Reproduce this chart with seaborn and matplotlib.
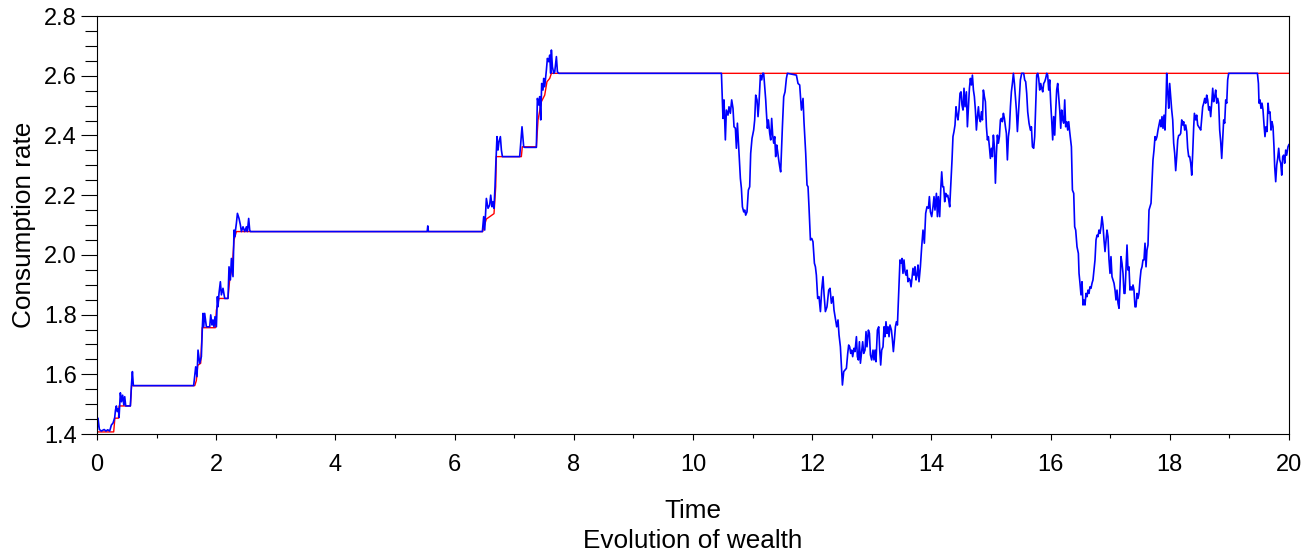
import numpy as np
import pandas as pd
import matplotlib
matplotlib.use("Agg")
import matplotlib.pyplot as plt
from matplotlib.ticker import MultipleLocator, FormatStrFormatter
import seaborn as sns

# ---------------------------------------------------------------------------
# Simulated consumption path (blue), split by time range
# ---------------------------------------------------------------------------
early_t = [0.000, 0.017, 0.040, 0.073, 0.120, 0.150, 0.180, 0.213, 0.241, 0.270,
           0.297, 0.310, 0.325, 0.340, 0.360, 0.370, 0.392, 0.410, 0.430, 0.450,
           0.465, 0.482, 0.560, 0.580, 0.594, 0.610,
           1.622, 1.656, 1.678, 1.695, 1.723, 1.751, 1.768, 1.779, 1.790, 1.807,
           1.835, 1.891, 1.908, 1.930, 1.946, 1.963, 1.980, 2.003, 2.020, 2.030,
           2.047, 2.070, 2.087, 2.114, 2.143, 2.198, 2.215, 2.238, 2.255, 2.282,
           2.299, 2.310, 2.339, 2.356, 2.383, 2.406, 2.423, 2.450, 2.478, 2.507,
           2.523, 2.545, 2.562, 2.574]
early_c = [1.410, 1.453, 1.415, 1.410, 1.415, 1.410, 1.414, 1.410, 1.430, 1.437,
           1.455, 1.480, 1.494, 1.475, 1.485, 1.455, 1.538, 1.508, 1.530, 1.497,
           1.525, 1.494, 1.494, 1.570, 1.609, 1.562,
           1.562, 1.625, 1.592, 1.681, 1.637, 1.659, 1.759, 1.804, 1.759, 1.804,
           1.759, 1.759, 1.799, 1.765, 1.782, 1.759, 1.793, 1.759, 1.860, 1.826,
           1.871, 1.910, 1.866, 1.888, 1.854, 1.854, 1.960, 1.916, 1.988, 1.927,
           2.083, 2.061, 2.106, 2.139, 2.122, 2.100, 2.078, 2.094, 2.078, 2.094,
           2.078, 2.122, 2.083, 2.078]

climb_t = [5.540, 5.550, 5.560, 6.466, 6.488, 6.505, 6.533, 6.561, 6.589, 6.606,
           6.628, 6.645, 6.661, 6.678, 6.690, 6.711, 6.728, 6.745, 6.768, 6.785,
           6.802, 7.092, 7.131, 7.159, 7.176, 7.372, 7.389, 7.411, 7.428, 7.445,
           7.461, 7.483, 7.495, 7.512, 7.540, 7.557, 7.579, 7.596, 7.612, 7.624,
           7.641, 7.663, 7.680, 7.708, 7.725, 7.747]
climb_c = [2.078, 2.097, 2.078, 2.078, 2.128, 2.083, 2.189, 2.156, 2.167, 2.200,
           2.161, 2.178, 2.156, 2.228, 2.295, 2.396, 2.351, 2.379, 2.396, 2.351,
           2.329, 2.329, 2.429, 2.362, 2.360, 2.360, 2.524, 2.502, 2.530, 2.452,
           2.574, 2.552, 2.591, 2.563, 2.619, 2.658, 2.647, 2.669, 2.608, 2.686,
           2.630, 2.608, 2.613, 2.664, 2.613, 2.608]

dip1_t = [10.477, 10.493, 10.503, 10.520, 10.543, 10.560, 10.587, 10.604, 10.627, 10.649,
          10.671, 10.688, 10.711, 10.728, 10.745, 10.767, 10.795, 10.812, 10.829, 10.851,
          10.868, 10.884, 10.906, 10.929, 10.951, 10.968, 10.990, 11.018, 11.035, 11.052,
          11.074, 11.091, 11.107, 11.131, 11.153, 11.169, 11.186, 11.203, 11.220, 11.231,
          11.248, 11.265, 11.287, 11.304, 11.320, 11.337, 11.354, 11.371, 11.387, 11.404,
          11.421, 11.438, 11.455, 11.471, 11.483, 11.500, 11.522, 11.544, 11.567, 11.584,
          11.735, 11.762, 11.790, 11.819, 11.846, 11.862, 11.891, 11.913, 11.930, 11.946]
dip1_c = [2.608, 2.519, 2.457, 2.519, 2.385, 2.485, 2.468, 2.496, 2.474, 2.519,
          2.491, 2.429, 2.424, 2.357, 2.441, 2.362, 2.256, 2.223, 2.161, 2.144,
          2.150, 2.133, 2.144, 2.217, 2.228, 2.340, 2.390, 2.418, 2.452, 2.535,
          2.519, 2.463, 2.507, 2.602, 2.586, 2.608, 2.608, 2.563, 2.519, 2.479,
          2.424, 2.452, 2.407, 2.385, 2.457, 2.401, 2.374, 2.396, 2.329, 2.368,
          2.345, 2.318, 2.295, 2.278, 2.340, 2.429, 2.530, 2.546, 2.591, 2.608,
          2.602, 2.574, 2.569, 2.485, 2.524, 2.446, 2.340, 2.234, 2.228, 2.161]

trough_t = [11.970, 11.992, 12.013, 12.037, 12.054, 12.070, 12.092, 12.114, 12.138, 12.159,
            12.181, 12.198, 12.221, 12.248, 12.277, 12.299, 12.322, 12.349, 12.366, 12.389,
            12.411, 12.433, 12.450, 12.473, 12.490, 12.507, 12.529, 12.550, 12.574, 12.596,
            12.612, 12.629, 12.646, 12.663, 12.679, 12.701, 12.718, 12.742, 12.758, 12.775,
            12.792, 12.809, 12.826, 12.847, 12.864, 12.886, 12.903, 12.919, 12.943, 12.960,
            12.977, 12.998, 13.020, 13.037, 13.054, 13.070, 13.094, 13.116, 13.133, 13.149,
            13.166, 13.188, 13.205, 13.221, 13.238, 13.255, 13.272, 13.289, 13.305, 13.329,
            13.346, 13.362, 13.379, 13.396, 13.413, 13.430, 13.451, 13.473, 13.490, 13.507,
            13.523, 13.540, 13.557, 13.574, 13.591, 13.607, 13.624, 13.641, 13.658, 13.674,
            13.691, 13.708, 13.725, 13.742, 13.758, 13.775, 13.792]
trough_c = [2.050, 2.055, 2.044, 1.972, 1.960, 1.932, 1.854, 1.860, 1.810, 1.882,
            1.927, 1.871, 1.810, 1.826, 1.882, 1.888, 1.838, 1.860, 1.815, 1.787,
            1.759, 1.782, 1.732, 1.692, 1.625, 1.564, 1.609, 1.614, 1.620, 1.670,
            1.698, 1.692, 1.670, 1.681, 1.659, 1.687, 1.676, 1.726, 1.659, 1.648,
            1.709, 1.637, 1.670, 1.709, 1.670, 1.681, 1.743, 1.692, 1.748, 1.737,
            1.665, 1.648, 1.681, 1.648, 1.681, 1.642, 1.748, 1.759, 1.681, 1.631,
            1.681, 1.692, 1.759, 1.726, 1.776, 1.737, 1.759, 1.726, 1.765, 1.748,
            1.715, 1.676, 1.715, 1.759, 1.776, 1.765, 1.871, 1.983, 1.972, 1.988,
            1.938, 1.983, 1.944, 1.932, 1.949, 1.910, 1.921, 1.916, 1.893, 1.921,
            1.955, 1.932, 1.960, 1.916, 1.932, 1.966, 1.910]

recovery_t = [13.815, 13.837, 13.859, 13.882, 13.904, 13.926, 13.950, 13.966, 13.983, 14.005,
              14.027, 14.044, 14.060, 14.084, 14.101, 14.117, 14.139, 14.156, 14.173, 14.190,
              14.206, 14.223, 14.240, 14.257, 14.273, 14.290, 14.307, 14.324, 14.346, 14.362,
              14.379, 14.396, 14.413, 14.430, 14.446, 14.463, 14.480, 14.497, 14.513, 14.530,
              14.547, 14.564, 14.587, 14.604, 14.621, 14.638, 14.654, 14.671, 14.688, 14.705,
              14.721, 14.738, 14.755, 14.772, 14.789, 14.805, 14.822, 14.839, 14.856, 14.872,
              14.889, 14.906, 14.923, 14.940, 14.956, 14.973, 14.990, 15.007, 15.023, 15.040,
              15.057, 15.074, 15.091, 15.107, 15.124, 15.141, 15.158, 15.174, 15.191, 15.208,
              15.225, 15.242, 15.258, 15.275, 15.292, 15.309, 15.326, 15.342, 15.359, 15.376,
              15.393, 15.409, 15.426, 15.443, 15.460, 15.477, 15.493, 15.515, 15.549, 15.565,
              15.582, 15.599, 15.616]
recovery_c = [1.960, 2.027, 2.083, 2.039, 2.139, 2.161, 2.156, 2.195, 2.144, 2.128,
              2.161, 2.195, 2.150, 2.206, 2.128, 2.195, 2.128, 2.217, 2.278, 2.228,
              2.228, 2.178, 2.206, 2.195, 2.200, 2.184, 2.161, 2.228, 2.318, 2.396,
              2.413, 2.435, 2.496, 2.468, 2.452, 2.485, 2.541, 2.546, 2.502, 2.485,
              2.558, 2.496, 2.546, 2.429, 2.496, 2.558, 2.591, 2.569, 2.602, 2.552,
              2.530, 2.485, 2.418, 2.463, 2.496, 2.457, 2.446, 2.479, 2.452, 2.552,
              2.530, 2.513, 2.429, 2.385, 2.396, 2.362, 2.323, 2.357, 2.329, 2.401,
              2.362, 2.240, 2.340, 2.401, 2.374, 2.396, 2.452, 2.457, 2.446, 2.474,
              2.457, 2.429, 2.407, 2.318, 2.396, 2.424, 2.496, 2.546, 2.574, 2.608,
              2.574, 2.530, 2.485, 2.413, 2.474, 2.541, 2.586, 2.608, 2.608, 2.586,
              2.580, 2.541, 2.479]

top_t = [15.638, 15.661, 15.678, 15.695, 15.716, 15.733, 15.750, 15.767, 15.784, 15.800,
         15.817, 15.834, 15.851, 15.868, 15.884, 15.901, 15.918, 15.935, 15.951, 15.968,
         15.985, 16.002, 16.018, 16.035, 16.052, 16.069, 16.086, 16.102, 16.119, 16.136,
         16.153, 16.170, 16.186, 16.203, 16.220, 16.237, 16.253, 16.270, 16.287, 16.304,
         16.320]
top_c = [2.441, 2.418, 2.429, 2.362, 2.357, 2.396, 2.496, 2.602, 2.608, 2.591,
         2.552, 2.574, 2.558, 2.546, 2.574, 2.580, 2.591, 2.608, 2.602, 2.552,
         2.586, 2.508, 2.452, 2.385, 2.463, 2.401, 2.485, 2.552, 2.574, 2.530,
         2.485, 2.424, 2.485, 2.452, 2.441, 2.519, 2.429, 2.446, 2.418, 2.446,
         2.413]

dip2_t = [16.349, 16.366, 16.388, 16.404, 16.421, 16.443, 16.466, 16.477, 16.493, 16.510,
          16.527, 16.544, 16.560, 16.577, 16.594, 16.611, 16.628, 16.644, 16.661, 16.678,
          16.695, 16.711, 16.728, 16.745, 16.762, 16.779, 16.795, 16.812, 16.829, 16.846,
          16.862, 16.879, 16.896, 16.913, 16.930, 16.946, 16.963, 16.980, 16.997, 17.013,
          17.030, 17.047, 17.064, 17.081, 17.097, 17.114, 17.131, 17.148, 17.164, 17.181,
          17.198, 17.215, 17.232, 17.248, 17.265, 17.282, 17.299, 17.315, 17.332, 17.349,
          17.366, 17.383, 17.399, 17.416, 17.433, 17.450, 17.466, 17.483, 17.500, 17.517,
          17.534, 17.550, 17.567, 17.584, 17.601, 17.617, 17.634, 17.651, 17.668, 17.685,
          17.701, 17.718, 17.735, 17.752, 17.768, 17.785, 17.802, 17.819, 17.836, 17.852,
          17.869, 17.886, 17.903, 17.919, 17.936, 17.948, 17.965, 17.982, 17.998, 18.015,
          18.032, 18.049, 18.065, 18.082, 18.099, 18.116, 18.133]
dip2_c = [2.362, 2.217, 2.206, 2.094, 2.083, 2.027, 2.005, 1.938, 1.905, 1.866,
          1.910, 1.832, 1.849, 1.832, 1.871, 1.860, 1.882, 1.871, 1.893, 1.888,
          1.905, 1.916, 1.949, 1.983, 2.050, 2.066, 2.061, 2.083, 2.072, 2.094,
          2.128, 2.100, 2.050, 2.011, 2.050, 2.083, 2.061, 1.983, 1.938, 1.994,
          1.927, 1.916, 1.905, 1.882, 1.849, 1.882, 1.838, 1.821, 1.893, 1.994,
          1.972, 1.938, 1.871, 1.871, 1.949, 2.033, 1.949, 1.960, 1.882, 1.893,
          1.882, 1.899, 1.882, 1.826, 1.826, 1.871, 1.854, 1.871, 1.916, 1.949,
          1.960, 1.983, 1.983, 2.039, 1.960, 2.016, 2.033, 2.150, 2.161, 2.173,
          2.240, 2.318, 2.351, 2.396, 2.385, 2.396, 2.418, 2.435, 2.452, 2.429,
          2.463, 2.424, 2.468, 2.418, 2.508, 2.608, 2.546, 2.491, 2.574, 2.530,
          2.485, 2.452, 2.374, 2.340, 2.282, 2.329, 2.385]

late_t = [18.149, 18.166, 18.183, 18.200, 18.217, 18.233, 18.250, 18.267, 18.284, 18.300,
          18.317, 18.334, 18.351, 18.368, 18.384, 18.401, 18.413, 18.435, 18.451, 18.468,
          18.485, 18.502, 18.519, 18.535, 18.552, 18.569, 18.586, 18.602, 18.619, 18.636,
          18.653, 18.669, 18.686, 18.703, 18.720, 18.736, 18.753, 18.770, 18.787, 18.804,
          18.820, 18.837, 18.854, 18.871, 18.887, 18.904, 18.921, 18.938, 18.955, 18.971,
          18.988, 19.470, 19.487, 19.497, 19.514, 19.530, 19.547, 19.564, 19.581, 19.597,
          19.614, 19.631, 19.648, 19.664, 19.681, 19.698, 19.715, 19.732, 19.748, 19.760,
          19.777, 19.794, 19.810, 19.827, 19.844, 19.861, 19.878, 19.894, 19.911, 19.928,
          19.945, 19.961, 19.983, 20.000]
late_c = [2.400, 2.401, 2.407, 2.452, 2.435, 2.446, 2.418, 2.435, 2.413, 2.357,
          2.329, 2.329, 2.307, 2.267, 2.340, 2.429, 2.474, 2.452, 2.468, 2.435,
          2.429, 2.424, 2.418, 2.457, 2.496, 2.508, 2.524, 2.508, 2.535, 2.519,
          2.485, 2.496, 2.463, 2.508, 2.558, 2.513, 2.530, 2.552, 2.508, 2.524,
          2.508, 2.418, 2.379, 2.323, 2.385, 2.452, 2.441, 2.519, 2.508, 2.586,
          2.608, 2.608, 2.574, 2.508, 2.519, 2.491, 2.508, 2.485, 2.435, 2.396,
          2.429, 2.413, 2.508, 2.474, 2.479, 2.418, 2.446, 2.429, 2.362, 2.295,
          2.245, 2.301, 2.323, 2.357, 2.318, 2.307, 2.267, 2.329, 2.334, 2.307,
          2.351, 2.334, 2.362, 2.370]

# ---------------------------------------------------------------------------
# Ratcheted consumption level (red step line)
# ---------------------------------------------------------------------------
ratchet_t = [0.000, 0.280, 0.300, 0.360, 0.370, 0.560, 0.580, 1.640, 1.667, 1.690,
             1.740, 1.765, 1.985, 2.003, 2.047, 2.198, 2.226, 2.270, 2.299, 2.339,
             6.470, 6.533, 6.661, 6.690, 6.700, 7.120, 7.136, 7.372, 7.400, 7.456,
             7.512, 7.550, 7.596, 7.624, 20.000]
ratchet_c = [1.407, 1.407, 1.453, 1.453, 1.494, 1.494, 1.562, 1.562, 1.579, 1.630,
             1.637, 1.756, 1.756, 1.815, 1.854, 1.854, 1.916, 1.960, 2.050, 2.078,
             2.078, 2.120, 2.138, 2.228, 2.329, 2.329, 2.362, 2.362, 2.452, 2.513,
             2.535, 2.580, 2.591, 2.608, 2.608]

x_ticks = [0, 2, 4, 6, 8, 10, 12, 14, 16, 18, 20]
y_ticks = [1.4, 1.6, 1.8, 2.0, 2.2, 2.4, 2.6, 2.8]

# ---------------------------------------------------------------------------
sns.set_theme(style="ticks")
plt.rcParams["font.family"] = ["Liberation Sans", "DejaVu Sans"]
plt.rcParams.update({
    "text.color": "black", "axes.labelcolor": "black",
    "xtick.color": "black", "ytick.color": "black",
    "axes.edgecolor": "black", "axes.linewidth": 0.8,
})

path = pd.DataFrame({
    "time": np.concatenate([early_t, climb_t, dip1_t, trough_t, recovery_t,
                            top_t, dip2_t, late_t]),
    "rate": np.concatenate([early_c, climb_c, dip1_c, trough_c, recovery_c,
                            top_c, dip2_c, late_c]),
})
ratchet = pd.DataFrame({"time": ratchet_t, "rate": ratchet_c})

W, H = 1310, 555
fig = plt.figure(figsize=(W / 100, H / 100), dpi=100)
ax = fig.add_axes([97 / W, 1 - 434 / H, (1289 - 97) / W, (434 - 16) / H])

sns.lineplot(data=ratchet, x="time", y="rate", color="#ff0000", linewidth=1.0,
             estimator=None, sort=False, ax=ax)
sns.lineplot(data=path, x="time", y="rate", color="#0000ff", linewidth=1.2,
             estimator=None, sort=False, ax=ax)

ax.set_xlim(0, 20)
ax.set_ylim(1.4, 2.8)
ax.set_xticks(x_ticks)
ax.set_yticks(y_ticks)
ax.xaxis.set_minor_locator(MultipleLocator(1))
ax.yaxis.set_minor_locator(MultipleLocator(0.05))
ax.yaxis.set_major_formatter(FormatStrFormatter("%.1f"))
ax.tick_params(axis="both", which="both", direction="out", top=False, right=False,
               labelsize=17, width=0.8)
ax.tick_params(axis="y", which="major", length=11.5, pad=3)
ax.tick_params(axis="y", which="minor", length=8.4)
ax.tick_params(axis="x", which="major", length=4.5, pad=10)
ax.tick_params(axis="x", which="minor", length=3.2)
for side in ("top", "right", "bottom", "left"):
    ax.spines[side].set_visible(True)
    ax.spines[side].set_linewidth(0.8)

label_size = 18.8
ax.set_xlabel("Time", fontsize=label_size, va="baseline")
ax.set_ylabel("Consumption rate", fontsize=label_size)
ax.xaxis.set_label_coords(0.5, (434 - 518) / 418)
ax.yaxis.set_label_coords(-0.051, 0.5)
fig.text(0.5 * (97 + 1289) / W, 1 - 548 / H, "Evolution of wealth",
         ha="center", va="baseline", fontsize=label_size)

fig.savefig("out.png", dpi=100)
